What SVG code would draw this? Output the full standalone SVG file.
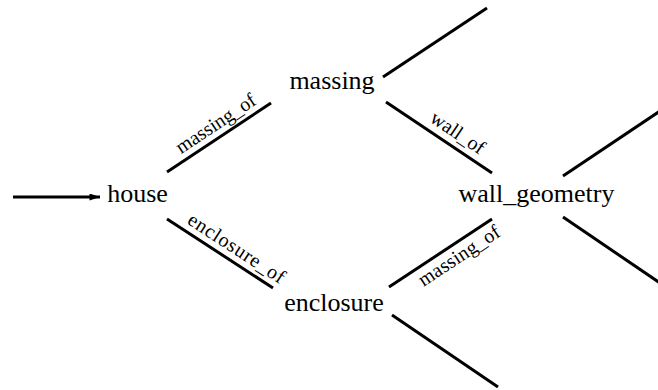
<svg xmlns="http://www.w3.org/2000/svg" width="658" height="390" viewBox="0 0 658 390">
<defs>
<style>
.node{font-family:"Liberation Serif","Times New Roman",serif;font-size:26px;fill:#000;text-anchor:middle}
.lbl{font-family:"Liberation Serif","Times New Roman",serif;font-size:20px;fill:#000;text-anchor:middle}
.edge{stroke:#000;stroke-width:3;fill:none}
</style>
<marker id="ah" viewBox="0 0 12 8" refX="12" refY="4" markerWidth="12" markerHeight="7" markerUnits="userSpaceOnUse" orient="auto">
<path d="M0,0 L12,4 L0,8 z" fill="#000"/>
</marker>
</defs>
<rect width="658" height="390" fill="#fff"/>
<g id="connectors">
<line class="edge" x1="13" y1="197" x2="100" y2="197" marker-end="url(#ah)"/>
<line class="edge" x1="167" y1="172" x2="271" y2="103"/>
<line class="edge" x1="167" y1="219" x2="273" y2="288"/>
<line class="edge" x1="383" y1="77" x2="487" y2="8"/>
<line class="edge" x1="386" y1="102" x2="492" y2="173"/>
<line class="edge" x1="389" y1="287" x2="492" y2="219"/>
<line class="edge" x1="392" y1="315" x2="498" y2="387"/>
<line class="edge" x1="563" y1="176" x2="660" y2="111"/>
<line class="edge" x1="563" y1="217" x2="660" y2="283"/>
<g transform="translate(219,137.5) rotate(-33.6)"><text class="lbl" x="5" y="-7" textLength="92" lengthAdjust="spacing">massing_of</text></g>
<g transform="translate(220,253.5) rotate(33.1)"><text class="lbl" x="11" y="-7" textLength="112" lengthAdjust="spacing">enclosure_of</text></g>
<g transform="translate(439,137.5) rotate(33.8)"><text class="lbl" x="13" y="-8">wall_of</text></g>
<g transform="translate(440.5,253) rotate(-33.4)"><text class="lbl" x="14" y="19" textLength="94" lengthAdjust="spacing">massing_of</text></g>
</g>
<g id="house"><text class="node" x="137.5" y="202">house</text></g>
<g id="massing"><text class="node" x="332" y="89">massing</text></g>
<g id="enclosure"><text class="node" x="334" y="311">enclosure</text></g>
<g id="wall_geometry"><text class="node" x="536.5" y="202">wall_geometry</text></g>
</svg>
